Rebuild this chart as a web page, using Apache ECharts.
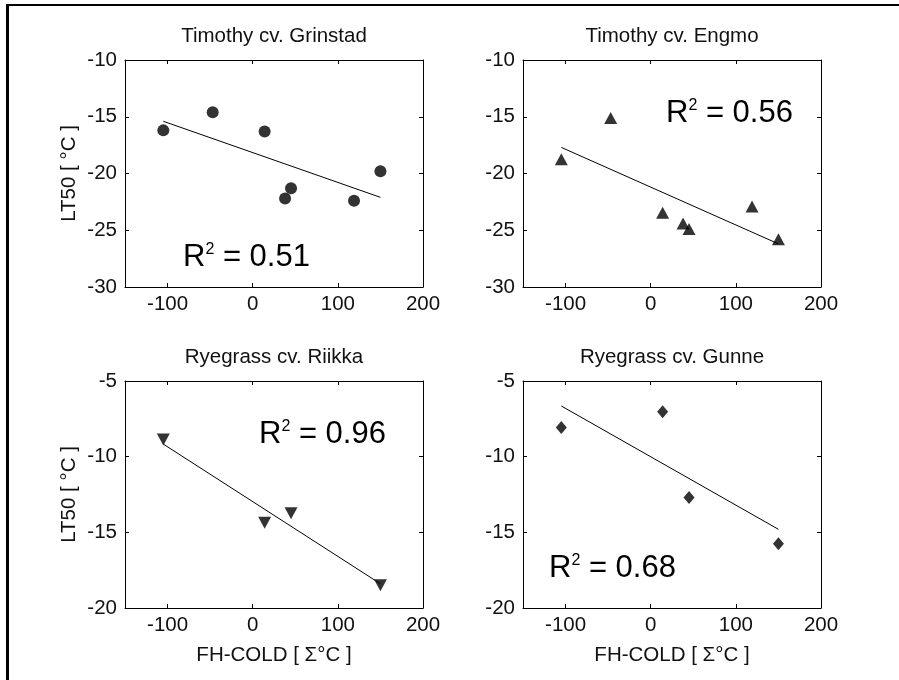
<!DOCTYPE html>
<html>
<head>
<meta charset="utf-8">
<script src="https://cdn.jsdelivr.net/npm/echarts@6/dist/echarts.min.js"></script>
<style>
  html, body { margin: 0; padding: 0; background: #fff; }
  #chart { width: 899px; height: 680px; }
</style>
</head>
<body>
<div id="chart"></div>
<script>
// Freezing tolerance (LT50) against accumulated cold hardening (FH-COLD)
const timothyX = [-105, -47, 14, 38, 45, 119, 150];
const grinstad = [-16.2, -14.6, -16.3, -22.2, -21.3, -22.4, -19.8];
const engmo    = [-18.75, -15.1, -23.45, -24.4, -24.9, -22.9, -25.8];

const ryegrassX = [-105, 14, 45, 150];
const riikka    = [-8.86, -14.36, -13.74, -18.5];
const gunne     = [-8.07, -7.04, -12.69, -15.76];

// Linear fits, evaluated at the ends of the x range
const fitX         = [-105, 150];
const grinstadFit  = [-15.4, -22.1];
const engmoFit     = [-17.7, -26.2];
const riikkaFit    = [-9.17, -18.4];
const gunneFit     = [-6.65, -14.8];

const titles   = ['Timothy cv. Grinstad', 'Timothy cv. Engmo', 'Ryegrass cv. Riikka', 'Ryegrass cv. Gunne'];
const r2Labels = ['0.51', '0.56', '0.96', '0.68'];

const xTicks  = [-100, 0, 100, 200];
const yRangeTop    = [-30, -10];
const yRangeBottom = [-20, -5];

const FONT = '"Liberation Sans", Arial, Helvetica, sans-serif';
const INK = '#000';
const TXT = '#111';
const FS = 20.5;

// panel boxes: left, top, width, height
const boxes = [
  [125, 60, 298, 227],
  [523, 60, 298, 227],
  [125, 381, 298, 227],
  [523, 381, 298, 227]
];
// R^2 text top-left positions
const r2Pos = [[183, 242], [666, 98], [259, 419], [549, 553]];

const panels = [
  { x: timothyX, y: grinstad, fit: grinstadFit, symbol: 'circle',   size: 12,       rot: 0,   yr: yRangeTop },
  { x: timothyX, y: engmo,    fit: engmoFit,    symbol: 'triangle', size: [13, 12], rot: 0,   yr: yRangeTop },
  { x: ryegrassX, y: riikka,  fit: riikkaFit,   symbol: 'triangle', size: [13, 12], rot: 180, yr: yRangeBottom },
  { x: ryegrassX, y: gunne,   fit: gunneFit,    symbol: 'diamond',  size: [11, 13], rot: 0,   yr: yRangeBottom }
];

const grid = [], xAxis = [], yAxis = [], series = [], title = [], graphic = [];

const labelStyle = { fontSize: FS, color: TXT, fontFamily: FONT };

panels.forEach((p, i) => {
  const [l, t, w, h] = boxes[i];
  grid.push({ left: l, top: t, width: w, height: h, containLabel: false });

  const isLeft = i % 2 === 0;
  const isBottom = i >= 2;

  const xCommon = {
    gridIndex: i, type: 'value', min: -150, max: 200,
    axisLine: { show: true, onZero: false, lineStyle: { color: INK, width: 1 } },
    axisTick: { show: true, inside: true, length: 4, customValues: xTicks, lineStyle: { color: INK, width: 1 } },
    splitLine: { show: false }
  };
  xAxis.push(Object.assign({}, xCommon, {
    position: 'bottom',
    axisLabel: Object.assign({ show: true, margin: 7, customValues: xTicks }, labelStyle),
    name: isBottom ? 'FH-COLD [ \u03A3\u00B0C ]' : '',
    nameLocation: 'middle', nameGap: 37,
    nameTextStyle: { fontSize: FS, color: TXT, fontFamily: FONT }
  }));
  xAxis.push(Object.assign({}, xCommon, { position: 'top', axisLabel: { show: false } }));

  const yCommon = {
    gridIndex: i, type: 'value', min: p.yr[0], max: p.yr[1], interval: 5,
    axisLine: { show: true, onZero: false, lineStyle: { color: INK, width: 1 } },
    axisTick: { show: true, inside: true, length: 4, lineStyle: { color: INK, width: 1 } },
    splitLine: { show: false }
  };
  yAxis.push(Object.assign({}, yCommon, {
    position: 'left',
    axisLabel: Object.assign({ show: true, margin: 8, showMinLabel: true, showMaxLabel: true }, labelStyle),
    name: isLeft ? 'LT50 [ \u00B0C ]' : '',
    nameLocation: 'middle', nameGap: 45,
    nameTextStyle: { fontSize: FS, color: TXT, fontFamily: FONT }
  }));
  yAxis.push(Object.assign({}, yCommon, { position: 'right', axisLabel: { show: false } }));

  series.push({
    type: 'line', xAxisIndex: 2 * i, yAxisIndex: 2 * i,
    data: fitX.map((xv, k) => [xv, p.fit[k]]),
    symbol: 'none', lineStyle: { color: INK, width: 1 }, silent: true, z: 2
  });
  series.push({
    type: 'scatter', xAxisIndex: 2 * i, yAxisIndex: 2 * i,
    data: p.x.map((xv, k) => [xv, p.y[k]]),
    symbol: p.symbol, symbolSize: p.size, symbolRotate: p.rot,
    itemStyle: { color: INK }, z: 3
  });

  title.push({
    text: titles[i], left: l + w / 2, top: t - 34, textAlign: 'center', padding: 0,
    textStyle: { fontSize: FS, fontWeight: 'normal', color: TXT, fontFamily: FONT }
  });

  graphic.push({
    type: 'text', x: r2Pos[i][0], y: r2Pos[i][1], z: 10,
    style: {
      text: '{a|R}{b|2}{a| = ' + r2Labels[i] + '}',
      verticalAlign: 'top', align: 'left',
      rich: {
        a: { fontSize: 31, lineHeight: 31, fontFamily: FONT, fill: INK },
        b: { fontSize: 16, lineHeight: 12, verticalAlign: 'top', fontFamily: FONT, fill: INK }
      }
    }
  });
});

// figure frame
graphic.push({ type: 'rect', shape: { x: 6, y: 4, width: 893, height: 2 }, style: { fill: INK } });
graphic.push({ type: 'rect', shape: { x: 6, y: 4, width: 3, height: 676 }, style: { fill: INK } });

const chart = echarts.init(document.getElementById('chart'), null, { renderer: 'canvas' });
chart.setOption({
  backgroundColor: '#fff',
  animation: false,
  title, grid, xAxis, yAxis, series, graphic
});
</script>
</body>
</html>
